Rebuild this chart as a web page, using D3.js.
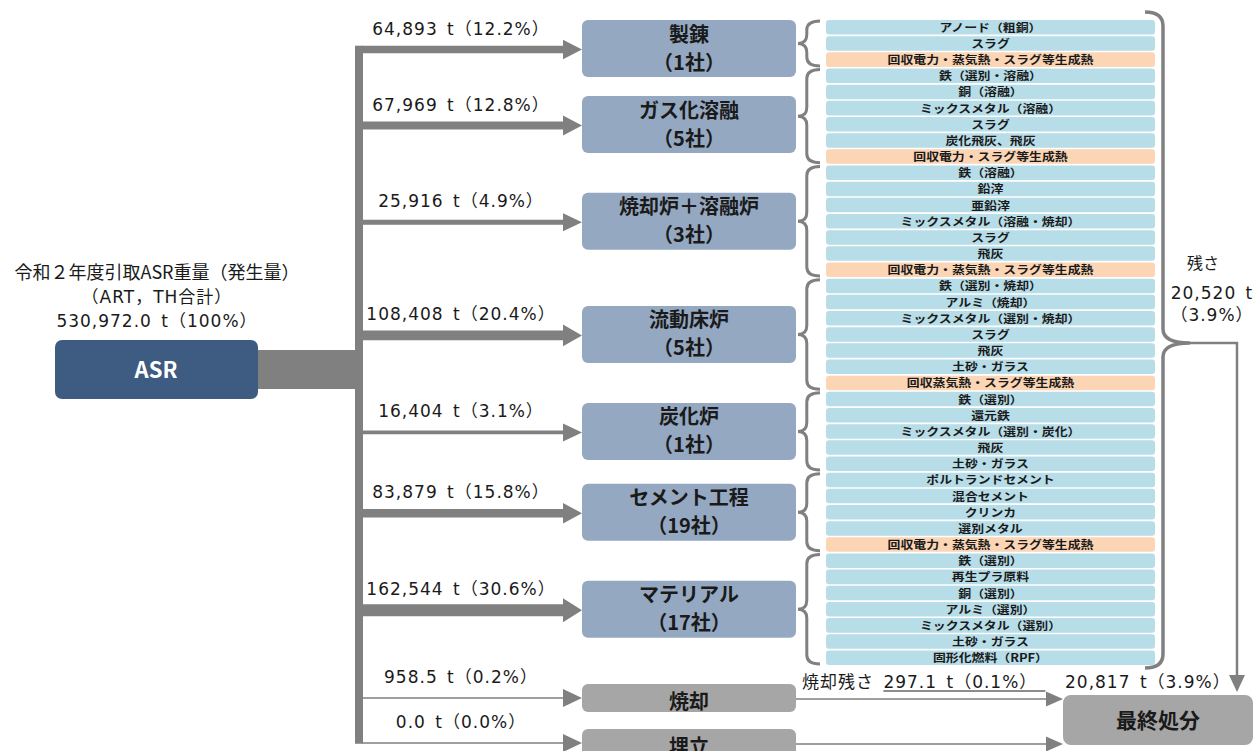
<!DOCTYPE html>
<html>
<head>
<meta charset="utf-8">
<script src="https://cdn.jsdelivr.net/npm/d3@7"></script>
<style>
  body { margin: 0; background: #fff; }
  svg { display: block; font-family: "Noto Sans CJK JP", "Noto Sans", sans-serif; }
  .num { font-family: "DejaVu Sans", "Noto Sans CJK JP", sans-serif; letter-spacing: 1px; word-spacing: 3px; }
</style>
</head>
<body>
<svg id="chart" width="1257" height="751"></svg>
<script>
// ---- data ----
const routes = ['製錬', 'ガス化溶融', '焼却炉＋溶融炉', '流動床炉', '炭化炉', 'セメント工程', 'マテリアル', '焼却', '埋立'];
const companies = ['1社', '5社', '3社', '5社', '1社', '19社', '17社', null, null];
const tonnage = [64893, 67969, 25916, 108408, 16404, 83879, 162544, 958.5, 0.0];
const tonnageLabels = ['64,893', '67,969', '25,916', '108,408', '16,404', '83,879', '162,544', '958.5', '0.0'];
const share = [12.2, 12.8, 4.9, 20.4, 3.1, 15.8, 30.6, 0.2, 0.0];

const itemNames = [
  'アノード（粗銅）', 'スラグ', '回収電力・蒸気熱・スラグ等生成熱',
  '鉄（選別・溶融）', '銅（溶融）', 'ミックスメタル（溶融）', 'スラグ', '炭化飛灰、飛灰', '回収電力・スラグ等生成熱',
  '鉄（溶融）', '鉛滓', '亜鉛滓', 'ミックスメタル（溶融・焼却）', 'スラグ', '飛灰', '回収電力・蒸気熱・スラグ等生成熱',
  '鉄（選別・焼却）', 'アルミ（焼却）', 'ミックスメタル（選別・焼却）', 'スラグ', '飛灰', '土砂・ガラス', '回収蒸気熱・スラグ等生成熱',
  '鉄（選別）', '還元鉄', 'ミックスメタル（選別・炭化）', '飛灰', '土砂・ガラス',
  'ポルトランドセメント', '混合セメント', 'クリンカ', '選別メタル', '回収電力・蒸気熱・スラグ等生成熱',
  '鉄（選別）', '再生プラ原料', '銅（選別）', 'アルミ（選別）', 'ミックスメタル（選別）', '土砂・ガラス', '固形化燃料（RPF）'
];
const itemRoute = [
  0, 0, 0,
  1, 1, 1, 1, 1, 1,
  2, 2, 2, 2, 2, 2, 2,
  3, 3, 3, 3, 3, 3, 3,
  4, 4, 4, 4, 4,
  5, 5, 5, 5, 5,
  6, 6, 6, 6, 6, 6, 6
];

const sourceLines = ['令和２年度引取ASR重量（発生量）', '（ART，TH合計）', '530,972.0 t（100%）'];
const residue = { label: '残さ', t: '20,520', pct: 3.9 };
const burnResidue = { label: '焼却残さ', t: '297.1', pct: 0.1 };
const finalDisposal = { label: '最終処分', t: '20,817', pct: 3.9 };

// ---- styles ----
const GRAY = '#808080';
const BOX = '#95a8c1';
const BOX_GRAY = '#a6a6a6';
const ASR = '#3e5c82';
const ITEM = '#b7dde8';
const HEAT = '#fcd5b4';
const INK = '#1a1a1a';

const svg = d3.select('#chart');

// item rows
const rowY = d3.scaleBand()
  .domain(d3.range(itemNames.length))
  .range([20, 665])
  .paddingInner(0.1);

const widthScale = d3.scaleSqrt().domain([0, d3.max(tonnage)]).range([0, 12]);
const thick = v => Math.max(1.5, widthScale(v));

// group extents
const groups = d3.range(7).map(r => {
  const idx = itemRoute.map((g, i) => g === r ? i : -1).filter(i => i >= 0);
  return { y0: rowY(idx[0]), y1: rowY(idx[idx.length - 1]) + rowY.bandwidth() };
});

// box layout
const boxX = 582, boxW = 214, boxH = 57, grayH = 28;
let prevBottom = -Infinity;
const boxes = routes.map((name, i) => {
  let top, h;
  if (i < 7) {
    h = boxH;
    const c = (groups[i].y0 + groups[i].y1) / 2;
    top = Math.max(c - h / 2, 20, prevBottom + 19);
  } else {
    h = grayH;
    top = i === 7 ? rowY.range()[1] + 19 : prevBottom + 17;
  }
  prevBottom = top + h;
  return { name, top, h, cy: top + h / 2 };
});

// ---- source ----
svg.append('g').selectAll('text').data(sourceLines).join('text')
  .attr('class', (d, i) => i === 0 ? null : 'num')
  .attr('x', 157).attr('y', (d, i) => 279 + i * 24)
  .attr('text-anchor', 'middle').attr('font-size', (d, i) => i === 0 ? 18 : 17).attr('fill', INK)
  .text(d => d);

svg.append('rect').attr('x', 250).attr('y', 350).attr('width', 110).attr('height', 39).attr('fill', GRAY);
svg.append('rect').attr('x', 55).attr('y', 340).attr('width', 203).attr('height', 59).attr('rx', 7).attr('fill', ASR);
svg.append('text').attr('x', 156).attr('y', 378).attr('text-anchor', 'middle')
  .attr('font-size', 22).attr('font-weight', 700).attr('fill', '#fff').text('ASR');

// ---- trunk and branch arrows ----
const trunkX = 355, trunkW = 8;
const arrowEnd = 582, headLen = 19;
const arrows = boxes.map((b, i) => ({ y: b.cy + (i < 7 ? 1 : 0), t: thick(tonnage[i]), i }));

svg.append('rect')
  .attr('x', trunkX).attr('y', arrows[0].y - arrows[0].t / 2)
  .attr('width', trunkW)
  .attr('height', arrows[arrows.length - 1].y + arrows[arrows.length - 1].t / 2 - (arrows[0].y - arrows[0].t / 2))
  .attr('fill', GRAY);

function arrowPath(x0, x1, y, t, hl, hh) {
  const xs = x1 - hl;
  return `M${x0},${y - t / 2}L${xs},${y - t / 2}L${xs},${y - hh / 2}L${x1},${y}L${xs},${y + hh / 2}L${xs},${y + t / 2}L${x0},${y + t / 2}Z`;
}

svg.append('g').selectAll('path').data(arrows).join('path')
  .attr('d', d => arrowPath(trunkX + trunkW - 1, arrowEnd, d.y, d.t, headLen, Math.max(18, d.t + 12)))
  .attr('fill', GRAY);

svg.append('g').selectAll('text').data(arrows).join('text')
  .attr('class', 'num')
  .attr('x', 461).attr('y', d => d.y - 15)
  .attr('text-anchor', 'middle').attr('font-size', 17).attr('fill', INK)
  .text(d => `${tonnageLabels[d.i]} t（${share[d.i].toFixed(1)}%）`);

// ---- process boxes ----
const boxG = svg.append('g').selectAll('g').data(boxes).join('g');
boxG.append('rect')
  .attr('x', boxX).attr('y', d => d.top).attr('width', boxW).attr('height', d => d.h)
  .attr('rx', 6).attr('fill', (d, i) => i < 7 ? BOX : BOX_GRAY);
boxG.each(function (d, i) {
  const g = d3.select(this);
  const t = g.append('text').attr('text-anchor', 'middle').attr('font-size', 20)
    .attr('font-weight', 700).attr('fill', INK);
  if (companies[i]) {
    t.append('tspan').attr('x', boxX + boxW / 2).attr('y', d.cy - 7).text(d.name);
    t.append('tspan').attr('x', boxX + boxW / 2).attr('y', d.cy + 21).text(`（${companies[i]}）`);
  } else {
    t.attr('x', boxX + boxW / 2).attr('y', d.cy + 11).text(d.name);
  }
});

// ---- item rows ----
const itemX = 826, itemW = 329;
const rows = svg.append('g').selectAll('g').data(itemNames).join('g');
rows.append('rect')
  .attr('x', itemX).attr('y', (d, i) => rowY(i))
  .attr('width', itemW).attr('height', rowY.bandwidth())
  .attr('rx', 3)
  .attr('fill', d => d.startsWith('回収') ? HEAT : ITEM);
rows.append('text')
  .attr('x', itemX + itemW / 2).attr('y', (d, i) => rowY(i) + rowY.bandwidth() / 2 + 4.5)
  .attr('text-anchor', 'middle').attr('font-size', 11).attr('font-weight', 700).attr('fill', INK)
  .text(d => d)
  .each(function () {
    // widen the glyphs a little, as the squeezed labels in the reference
    const len = this.getComputedTextLength();
    d3.select(this).attr('textLength', len * 1.17).attr('lengthAdjust', 'spacingAndGlyphs');
  });

// ---- braces ----
function braceLeft(x, y0, y1, w) {
  const sx = x + w * 0.4, ex = x + w, ym = (y0 + y1) / 2, r = 9;
  return `M${ex},${y0}Q${sx},${y0} ${sx},${y0 + r}L${sx},${ym - r}Q${sx},${ym} ${x},${ym}` +
    `Q${sx},${ym} ${sx},${ym + r}L${sx},${y1 - r}Q${sx},${y1} ${ex},${y1}`;
}
svg.append('g').selectAll('path').data(groups).join('path')
  .attr('d', d => braceLeft(798, d.y0 + 1, d.y1 - 1, 22))
  .attr('fill', 'none').attr('stroke', GRAY).attr('stroke-width', 3);

// big closing brace
const bY0 = 12, bY1 = 668, bYm = 343;
const bx0 = 1145, bsx = 1163, btx = 1190, br = 14;
svg.append('path')
  .attr('d', `M${bx0},${bY0}Q${bsx},${bY0} ${bsx},${bY0 + br}L${bsx},${bYm - br}Q${bsx},${bYm} ${btx},${bYm}` +
    `Q${bsx},${bYm} ${bsx},${bYm + br}L${bsx},${bY1 - br}Q${bsx},${bY1} ${bx0},${bY1}`)
  .attr('fill', 'none').attr('stroke', GRAY).attr('stroke-width', 3.5);

// residue line down to final disposal
const finalBox = { x: 1063, y: 695, w: 190, h: 50 };
const downX = 1237;
svg.append('path')
  .attr('d', `M${btx},${bYm}L${downX},${bYm}L${downX},${finalBox.y - 18}`)
  .attr('fill', 'none').attr('stroke', GRAY).attr('stroke-width', 2.5);
svg.append('path')
  .attr('d', `M${downX - 8},${finalBox.y - 20}L${downX + 8},${finalBox.y - 20}L${downX},${finalBox.y - 3}Z`)
  .attr('fill', GRAY);

svg.append('text').attr('x', 1203).attr('y', 269).attr('text-anchor', 'middle')
  .attr('font-size', 16).attr('fill', INK).text(residue.label);
svg.append('text').attr('class', 'num').attr('x', 1212).attr('y', 299).attr('text-anchor', 'middle')
  .attr('font-size', 17).attr('fill', INK).text(`${residue.t} t`);
svg.append('text').attr('class', 'num').attr('x', 1212).attr('y', 321).attr('text-anchor', 'middle')
  .attr('font-size', 17).attr('fill', INK).text(`（${residue.pct.toFixed(1)}%）`);

// ---- incineration / landfill to final disposal ----
[boxes[7], boxes[8]].forEach(b => {
  const y = b.cy + 1;
  svg.append('path')
    .attr('d', arrowPath(boxX + boxW, finalBox.x, y, 1.5, 17, 15))
    .attr('fill', GRAY);
});

svg.append('rect')
  .attr('x', finalBox.x).attr('y', finalBox.y).attr('width', finalBox.w).attr('height', finalBox.h)
  .attr('rx', 8).attr('fill', BOX_GRAY);
svg.append('text')
  .attr('x', finalBox.x + finalBox.w / 2).attr('y', finalBox.y + finalBox.h / 2 + 8)
  .attr('text-anchor', 'middle').attr('font-size', 21).attr('font-weight', 700).attr('fill', INK)
  .text(finalDisposal.label);

const brX = 802;
const br1 = svg.append('text').attr('class', 'num').attr('x', brX).attr('y', 688).attr('font-size', 17).attr('fill', INK);
br1.append('tspan').text(burnResidue.label + ' ');
br1.append('tspan').text(`${burnResidue.t} t（${burnResidue.pct.toFixed(1)}%）`);
const ulStart = br1.node().getSubStringLength(0, burnResidue.label.length + 1);
const ulLen = br1.node().getComputedTextLength() - ulStart;
svg.append('line')
  .attr('x1', brX + ulStart).attr('x2', brX + ulStart + ulLen + 8)
  .attr('y1', 691).attr('y2', 691)
  .attr('stroke', INK).attr('stroke-width', 1);

svg.append('text').attr('class', 'num').attr('x', 1065).attr('y', 688).attr('font-size', 17).attr('fill', INK)
  .text(`${finalDisposal.t} t（${finalDisposal.pct.toFixed(1)}%）`);
</script>
</body>
</html>
